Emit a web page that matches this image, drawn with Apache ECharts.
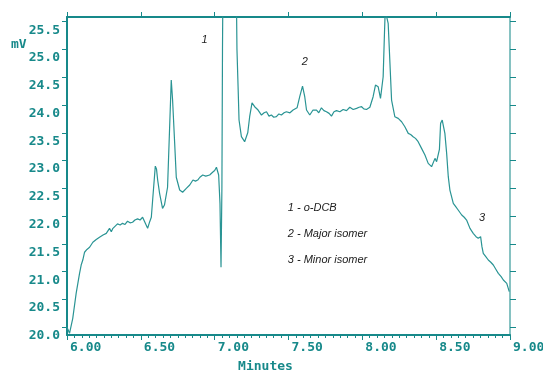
<!DOCTYPE html>
<html>
<head>
<meta charset="utf-8">
<script src="https://cdn.jsdelivr.net/npm/echarts@6/dist/echarts.min.js"></script>
<style>
  html, body { margin: 0; padding: 0; background: #fff; }
  #chart { width: 543px; height: 373px; }
</style>
</head>
<body>
<div id="chart"></div>
<script>
// retention time (min) and detector signal (mV)
const minutes = [
  6.000, 6.008, 6.017, 6.039, 6.062, 6.085, 6.096, 6.107, 6.119, 6.135,
  6.153, 6.175, 6.198, 6.220, 6.244, 6.266, 6.288, 6.300, 6.311, 6.342,
  6.360, 6.376, 6.393, 6.410, 6.427, 6.444, 6.460, 6.478, 6.495, 6.512,
  6.525, 6.546, 6.560, 6.571, 6.580, 6.598, 6.606, 6.614, 6.627, 6.647,
  6.660, 6.673, 6.681, 6.695, 6.706, 6.715, 6.729, 6.740, 6.763, 6.783,
  6.795, 6.808, 6.831, 6.853, 6.870, 6.885, 6.900, 6.919, 6.940, 6.966,
  6.986, 7.000, 7.012, 7.027, 7.036, 7.043, 7.049, 7.053, 7.058, 7.100,
  7.143, 7.151, 7.160, 7.165, 7.181, 7.203, 7.224, 7.237, 7.253, 7.271,
  7.294, 7.317, 7.335, 7.351, 7.368, 7.384, 7.400, 7.418, 7.435, 7.452,
  7.470, 7.486, 7.510, 7.531, 7.558, 7.576, 7.595, 7.610, 7.622, 7.644,
  7.666, 7.690, 7.705, 7.723, 7.740, 7.757, 7.775, 7.791, 7.808, 7.825,
  7.848, 7.870, 7.893, 7.915, 7.938, 7.961, 7.978, 7.995, 8.010, 8.028,
  8.051, 8.073, 8.089, 8.107, 8.123, 8.141, 8.150, 8.155, 8.165, 8.175,
  8.186, 8.198, 8.220, 8.243, 8.266, 8.288, 8.311, 8.327, 8.344, 8.360,
  8.378, 8.401, 8.424, 8.446, 8.469, 8.482, 8.492, 8.503, 8.514, 8.522,
  8.530, 8.541, 8.559, 8.571, 8.582, 8.593, 8.616, 8.630, 8.649, 8.673,
  8.690, 8.706, 8.729, 8.751, 8.770, 8.785, 8.801, 8.810, 8.819, 8.836,
  8.853, 8.870, 8.887, 8.905, 8.921, 8.940, 8.955, 8.978, 8.990, 8.995
];
const millivolts = [
  20.00, 19.95, 19.89, 20.16, 20.61, 20.97, 21.12, 21.21, 21.35, 21.40,
  21.44, 21.53, 21.58, 21.62, 21.66, 21.69, 21.78, 21.72, 21.78, 21.86,
  21.84, 21.87, 21.85, 21.91, 21.88, 21.89, 21.93, 21.95, 21.93, 21.98,
  21.97, 21.78, 21.90, 21.98, 22.29, 22.90, 22.85, 22.65, 22.41, 22.14,
  22.20, 22.23, 22.52, 23.60, 24.45, 24.09, 23.32, 22.70, 22.47, 22.43,
  22.46, 22.50, 22.56, 22.65, 22.63, 22.65, 22.70, 22.74, 22.72, 22.74,
  22.79, 22.82, 22.88, 22.74, 22.23, 21.08, 22.50, 25.00, 27.00, 30.00,
  27.00, 25.00, 24.20, 23.73, 23.43, 23.34, 23.50, 23.79, 24.04, 23.97,
  23.91, 23.82, 23.86, 23.88, 23.80, 23.82, 23.78, 23.79, 23.84, 23.82,
  23.86, 23.88, 23.86, 23.91, 23.95, 24.15, 24.34, 24.15, 23.91, 23.82,
  23.91, 23.91, 23.86, 23.95, 23.90, 23.88, 23.85, 23.80, 23.88, 23.90,
  23.88, 23.92, 23.90, 23.96, 23.92, 23.94, 23.96, 23.97, 23.93, 23.92,
  23.96, 24.15, 24.36, 24.33, 24.12, 24.51, 25.30, 25.70, 25.70, 25.47,
  24.81, 24.09, 23.79, 23.76, 23.70, 23.61, 23.49, 23.47, 23.43, 23.40,
  23.34, 23.22, 23.10, 22.95, 22.89, 22.91, 23.04, 22.98, 23.01, 23.20,
  23.67, 23.73, 23.49, 23.13, 22.71, 22.47, 22.23, 22.18, 22.11, 22.02,
  21.98, 21.93, 21.78, 21.69, 21.63, 21.60, 21.63, 21.45, 21.33, 21.27,
  21.21, 21.17, 21.12, 21.04, 20.97, 20.91, 20.85, 20.79, 20.76, 20.64
];

const yTicks = [20.0, 20.5, 21.0, 21.5, 22.0, 22.5, 23.0, 23.5, 24.0, 24.5, 25.0, 25.5];

// peak numbers and the key, placed in data coordinates
const noteMinutes = [6.932, 7.610, 8.810, 7.495, 7.495, 7.495];
const noteValues = [25.17, 24.775, 21.964, 22.144, 21.676, 21.207];
const noteTexts = ['1', '2', '3', '1 - o-DCB', '2 - Major isomer', '3 - Minor isomer'];

const teal = '#17898a';
const lineColor = '#2a9494';
const monoFont = '"DejaVu Sans Mono", "Liberation Mono", monospace';
const noteFont = '"Liberation Sans", Arial, sans-serif';

const chart = echarts.init(document.getElementById('chart'), null, { renderer: 'canvas' });

const noteData = noteTexts.map((text, i) => ({
  coord: [noteMinutes[i], noteValues[i]],
  value: text,
  label: { align: i < 3 ? 'center' : 'left' }
}));

chart.setOption({
  animation: false,
  backgroundColor: '#ffffff',
  grid: { left: 67, right: 33, top: 17, bottom: 38, containLabel: false, outerBoundsMode: 'none' },
  graphic: [
    {
      type: 'text',
      left: 11,
      top: 38,
      style: { text: 'mV', fill: teal, font: 'bold 13px ' + monoFont }
    }
  ],
  xAxis: [
    {
      type: 'value',
      position: 'bottom',
      min: 6,
      max: 9,
      interval: 0.5,
      name: 'Minutes',
      nameLocation: 'middle',
      nameGap: 25,
      nameTextStyle: {
        color: teal,
        fontFamily: monoFont,
        fontWeight: 'bold',
        fontSize: 13,
        padding: [0, 46, 0, 0]
      },
      axisLine: { show: true, onZero: false, lineStyle: { color: teal, width: 2 } },
      axisTick: { show: true, inside: false, length: 5, lineStyle: { color: teal } },
      minorTick: { show: true, splitNumber: 10, length: 3, lineStyle: { color: teal } },
      axisLabel: {
        color: teal,
        fontFamily: monoFont,
        fontWeight: 'bold',
        fontSize: 13,
        align: 'left',
        margin: 6,
        padding: [0, 0, 0, 3],
        formatter: (v) => v.toFixed(2)
      },
      splitLine: { show: false }
    },
    {
      type: 'value',
      position: 'top',
      min: 6,
      max: 9,
      interval: 0.5,
      axisLine: { show: true, onZero: false, lineStyle: { color: teal, width: 2 } },
      axisTick: { show: true, inside: false, length: 5, lineStyle: { color: teal } },
      axisLabel: { show: false },
      splitLine: { show: false }
    }
  ],
  yAxis: [
    {
      type: 'value',
      position: 'left',
      min: 19.86,
      max: 25.585,
      axisLine: { show: true, onZero: false, lineStyle: { color: teal, width: 2 } },
      axisTick: { show: true, inside: false, length: 5, customValues: yTicks, lineStyle: { color: teal } },
      axisLabel: {
        color: teal,
        fontFamily: monoFont,
        fontWeight: 'bold',
        fontSize: 13,
        margin: 7,
        verticalAlign: 'top',
        padding: [2, 0, 0, 0],
        customValues: yTicks,
        formatter: (v) => v.toFixed(1)
      },
      splitLine: { show: false }
    },
    {
      type: 'value',
      position: 'right',
      min: 19.86,
      max: 25.585,
      axisLine: { show: true, onZero: false, lineStyle: { color: '#86c2c2', width: 2 } },
      axisTick: { show: true, inside: false, length: 6, customValues: yTicks, lineStyle: { color: teal } },
      axisLabel: { show: false },
      splitLine: { show: false }
    }
  ],
  series: [
    {
      type: 'line',
      xAxisIndex: 0,
      yAxisIndex: 0,
      showSymbol: false,
      clip: true,
      lineStyle: { color: lineColor, width: 1.2 },
      data: minutes.map((t, i) => [t, millivolts[i]]),
      markPoint: {
        symbol: 'circle',
        symbolSize: 1,
        itemStyle: { color: 'rgba(0,0,0,0)' },
        label: {
          show: true,
          position: 'inside',
          color: '#222',
          fontFamily: noteFont,
          fontStyle: 'italic',
          fontSize: 11,
          formatter: (p) => p.value
        },
        data: noteData
      }
    }
  ]
});
</script>
</body>
</html>
